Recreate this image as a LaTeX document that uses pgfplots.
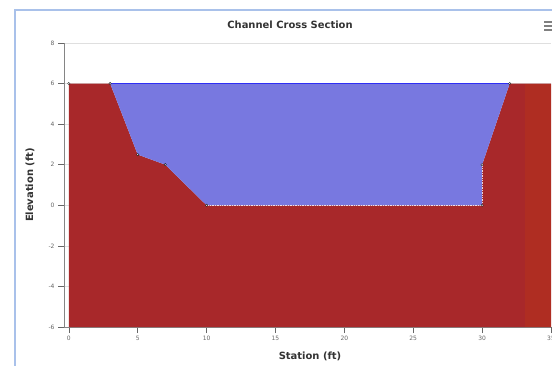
\documentclass[border=0pt]{standalone}
\usepackage{fontspec}
\setmainfont{DejaVu Sans}
\usepackage{pgfplots}
\pgfplotsset{compat=1.18}
\definecolor{ground}{HTML}{A8282A}
\definecolor{groundR}{HTML}{B3301F}
\definecolor{water}{HTML}{7878E0}
\definecolor{wline}{HTML}{2E2EF5}
\definecolor{framec}{HTML}{A9C1EA}
\definecolor{txt}{HTML}{333333}
\definecolor{tick}{HTML}{666666}
\begin{document}
\begin{tikzpicture}[x=1bp,y=1bp]
\useasboundingbox (0,0) rectangle (552,365);
\fill[white] (0,0) rectangle (552,365);
\draw[framec, line width=1.5bp] (15,-5) -- (15,355) -- (560,355);
\begin{axis}[
  at={(64bp,38bp)}, anchor=south west,
  scale only axis, width=487bp, height=284bp,
  xmin=-0.35, xmax=35, ymin=-6, ymax=8,
  xtick={0,5,...,35}, ytick={-6,-4,...,8},
  axis x line*=bottom, axis y line*=left,
  axis line style={draw=tick!80, line width=0.8bp},
  tick align=outside, major tick length=6bp,
  tick style={draw=tick, line width=0.6bp},
  ymajorgrids, grid style={draw=gray!25, line width=0.6bp},
  ticklabel style={font=\fontsize{6}{7}\selectfont, text=tick},
  /pgf/number format/assume math mode=true,
  clip=false,
]
\addplot[fill=ground, draw=none] coordinates {(0,-6)(0,6)(3,6)(5,2.5)(7,2)(10,0)(30,0)(30,2)(32,6)(35,6)(35,-6)} -- cycle;
\addplot[fill=groundR, draw=none, opacity=0.7] coordinates {(33.1,-6)(33.1,6)(35,6)(35,-6)} -- cycle;
\addplot[fill=water, draw=none] coordinates {(3,6)(5,2.5)(7,2)(10,0)(30,0)(30,2)(32,6)} -- cycle;
\addplot[white, densely dotted, line width=0.7bp, opacity=0.8] coordinates {(10,0)(30,0)(30,2)};
\addplot[wline, line width=1.4bp] coordinates {(3,6)(32,6)};
\addplot[only marks, mark=*, mark size=1.2bp, mark options={fill=white, draw=none, opacity=0.85}] coordinates {(0,6)(3,6)(5,2.5)(7,2)(10,0)(30,0)(30,2)(32,6)};
\end{axis}
\node[text=txt, font=\fontsize{10}{12}\selectfont\bfseries] at (290,340) {Channel Cross Section};
\node[text=txt, font=\fontsize{10}{12}\selectfont\bfseries] at (310,9) {Station (ft)};
\node[text=txt, font=\fontsize{10}{12}\selectfont\bfseries, rotate=90] at (30,180) {Elevation (ft)};
\draw[gray, line width=1.2bp] (544,343) -- (552,343) (544,339) -- (552,339) (544,335) -- (552,335);
\end{tikzpicture}
\end{document}
